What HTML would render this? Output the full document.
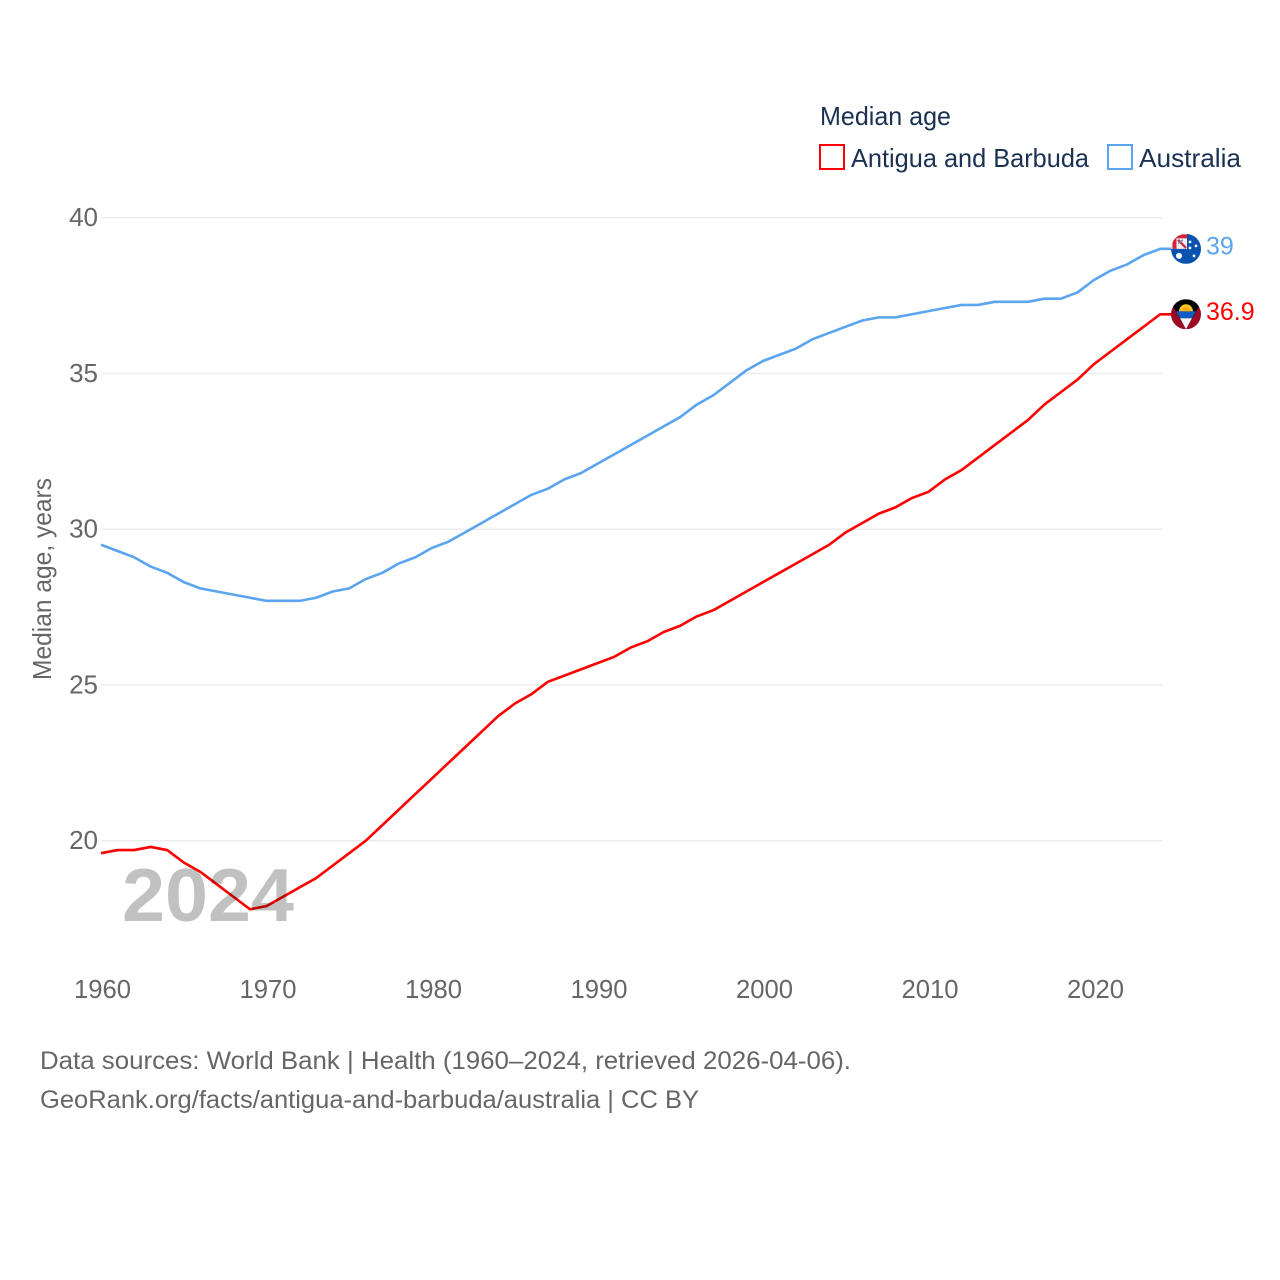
<!DOCTYPE html>
<html>
<head>
<meta charset="utf-8">
<title>Median age</title>
<style>
html,body{margin:0;padding:0;background:#fff;}
svg{display:block;}
text{font-family:"Liberation Sans",sans-serif;}
</style>
</head>
<body>
<svg id="chart" width="1280" height="1280" viewBox="0 0 1280 1280" xmlns="http://www.w3.org/2000/svg">
  <defs>
    <clipPath id="clip-au"><circle cx="0" cy="0" r="15"/></clipPath>
    <clipPath id="clip-ag"><circle cx="0" cy="0" r="15"/></clipPath>
  </defs>
  <rect width="1280" height="1280" fill="#fff"/>
  <g id="grid"></g>
  <g id="yticks"></g>
  <g id="xticks"></g>
  <text transform="translate(51,680) rotate(-90)" font-size="26" fill="#666" textLength="202" lengthAdjust="spacingAndGlyphs">Median age, years</text>
  <g id="series"></g>
  <text x="122" y="921" font-size="75" font-weight="bold" fill="#000" fill-opacity="0.245" textLength="172" lengthAdjust="spacingAndGlyphs">2024</text>

  <g>
    <text x="820" y="125" font-size="26" fill="#1a3153" textLength="131" lengthAdjust="spacingAndGlyphs">Median age</text>
    <rect x="820" y="145" width="24" height="24" fill="#fff" stroke="#ff0000" stroke-width="2"/>
    <text x="851" y="167" font-size="26" fill="#1a3153" textLength="238" lengthAdjust="spacingAndGlyphs">Antigua and Barbuda</text>
    <rect x="1108" y="145" width="24" height="24" fill="#fff" stroke="#5ba4f0" stroke-width="2"/>
    <text x="1139" y="167" font-size="26" fill="#1a3153" textLength="102" lengthAdjust="spacingAndGlyphs">Australia</text>
  </g>

  <g id="flag-au">
    <g clip-path="url(#clip-au)">
      <rect x="-15" y="-15" width="30" height="30" fill="#0a52b0"/>
      <rect x="-15" y="-15" width="16" height="15" fill="#f2f2f2"/>
      <path d="M-15,-12.5 H1 M-11.5,-15 V0" stroke="#d8213a" stroke-width="4" fill="none"/>
      <path d="M-8,-9 L0,-1" stroke="#c8324a" stroke-width="2.4" fill="none"/>
      <path d="M-8,-5 L-3,-9" stroke="#7a8cbc" stroke-width="1.5" fill="none"/>
      <circle cx="-7" cy="7" r="3" fill="#fff"/>
      <circle cx="4" cy="-7" r="1.4" fill="#fff"/>
      <circle cx="10" cy="-3" r="1.4" fill="#fff"/>
      <circle cx="4" cy="-1" r="1.4" fill="#fff"/>
      <circle cx="8" cy="7" r="1.4" fill="#fff"/>
    </g>
  </g>
  <g id="flag-ag">
    <g clip-path="url(#clip-ag)">
      <rect x="-15" y="-15" width="30" height="30" fill="#9c0a24"/>
      <polygon points="-15,-15 15,-15 15,-11 0,15 -15,-11" fill="#000"/>
      <polygon points="-10,-3 10,-3 6,4 -6,4" fill="#0f5cc4"/>
      <polygon points="-6,4 6,4 0,15" fill="#f4f4f4"/>
      <path d="M-7,-3 A7,7 0 0 1 7,-3 Z" fill="#f8c520"/>
      <path d="M-4,-3 A4,4 0 0 1 4,-3 Z" fill="#f0a818"/>
    </g>
  </g>

  <g id="endlabels"></g>

  <text x="40" y="1069" font-size="25" fill="#666" textLength="811" lengthAdjust="spacingAndGlyphs">Data sources: World Bank | Health (1960–2024, retrieved 2026-04-06).</text>
  <text x="40" y="1108" font-size="25" fill="#666" textLength="659" lengthAdjust="spacingAndGlyphs">GeoRank.org/facts/antigua-and-barbuda/australia | CC BY</text>
</svg>
<script>
const startYear = 1960;
const antiguaValues = [19.6,19.7,19.7,19.8,19.7,19.3,19.0,18.6,18.2,17.8,17.9,18.2,18.5,18.8,19.2,19.6,20.0,20.5,21.0,21.5,22.0,22.5,23.0,23.5,24.0,24.4,24.7,25.1,25.3,25.5,25.7,25.9,26.2,26.4,26.7,26.9,27.2,27.4,27.7,28.0,28.3,28.6,28.9,29.2,29.5,29.9,30.2,30.5,30.7,31.0,31.2,31.6,31.9,32.3,32.7,33.1,33.5,34.0,34.4,34.8,35.3,35.7,36.1,36.5,36.9];
const australiaValues = [29.5,29.3,29.1,28.8,28.6,28.3,28.1,28.0,27.9,27.8,27.7,27.7,27.7,27.8,28.0,28.1,28.4,28.6,28.9,29.1,29.4,29.6,29.9,30.2,30.5,30.8,31.1,31.3,31.6,31.8,32.1,32.4,32.7,33.0,33.3,33.6,34.0,34.3,34.7,35.1,35.4,35.6,35.8,36.1,36.3,36.5,36.7,36.8,36.8,36.9,37.0,37.1,37.2,37.2,37.3,37.3,37.3,37.4,37.4,37.6,38.0,38.3,38.5,38.8,39.0];
const yTickValues = [20,25,30,35,40];
const xTickYears = [1960,1970,1980,1990,2000,2010,2020];

const NS = 'http://www.w3.org/2000/svg';
function xScale(year){ return 101 + (year - 1960) * 16.55; }
function yScale(v){ return 217.7 + (40 - v) * 31.15; }
function make(tag, attrs, parent){
  const el = document.createElementNS(NS, tag);
  for (const k in attrs) el.setAttribute(k, attrs[k]);
  parent.appendChild(el);
  return el;
}

const grid = document.getElementById('grid');
const yticks = document.getElementById('yticks');
yTickValues.forEach(function(v){
  const line = make('line', {x1:102, x2:1162, y1:yScale(v), y2:yScale(v), stroke:'#ececec', 'stroke-width':1.5}, grid);
  
  
  const t = make('text', {x:98, y:yScale(v)+8.5, 'text-anchor':'end', 'font-size':26, fill:'#666'}, yticks);
  
  
  t.textContent = String(v);
});

const xticks = document.getElementById('xticks');
xTickYears.forEach(function(y){
  const t = make('text', {x:xScale(y)+1.5, y:998, 'text-anchor':'middle', 'font-size':26, fill:'#666', textLength:57, lengthAdjust:'spacingAndGlyphs'}, xticks);
  
  
  t.textContent = String(y);
});

const seriesGroup = document.getElementById('series');
const endGroup = document.getElementById('endlabels');
function drawSeries(values, color, name){
  let d = '';
  values.forEach(function(v, i){
    d += (i ? 'L' : 'M') + xScale(startYear + i).toFixed(2) + ',' + yScale(v).toFixed(2);
  });
  const last = values[values.length - 1];
  d += 'H1172';
  const p = make('path', {d:d, fill:'none', stroke:color, 'stroke-width':2.6, 'stroke-linejoin':'round'}, seriesGroup);
  
  
  const label = make('text', {x:1206, y:yScale(last)+5.5, 'font-size':25, fill:color}, endGroup);
  
  
  label.textContent = String(last);
  return yScale(last);
}
const yAg = drawSeries(antiguaValues, '#ff0000', 'antigua');
const yAu = drawSeries(australiaValues, '#5ba4f0', 'australia');
document.getElementById('flag-au').setAttribute('transform', 'translate(1186,' + yAu + ')');
document.getElementById('flag-ag').setAttribute('transform', 'translate(1186,' + yAg + ')');
</script>
</body>
</html>
